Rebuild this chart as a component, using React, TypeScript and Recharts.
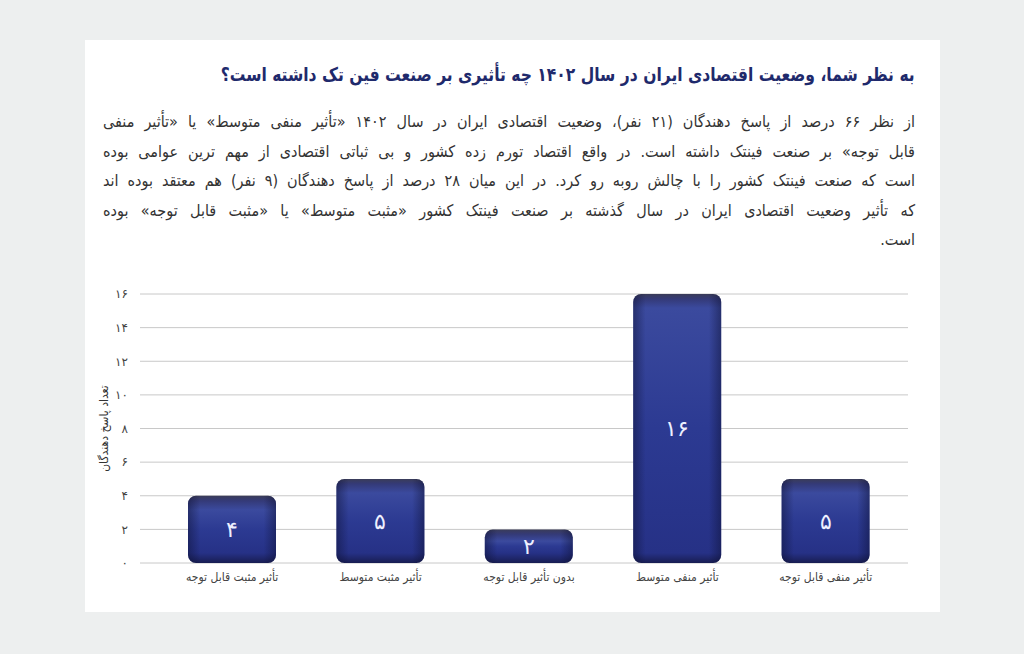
import React from "react";
import { Bar, BarChart, CartesianGrid, LabelList, Rectangle, XAxis, YAxis } from "recharts";

const categories = [
  "تأثیر مثبت قابل توجه",
  "تأثیر مثبت متوسط",
  "بدون تأثیر قابل توجه",
  "تأثیر منفی متوسط",
  "تأثیر منفی قابل توجه"
];
const respondents = [4, 5, 2, 16, 5];
const yTicks = [0, 2, 4, 6, 8, 10, 12, 14, 16];

const title = "به نظر شما، وضعیت اقتصادی ایران در سال ۱۴۰۲ چه تأثیری بر صنعت فین تک داشته است؟";
const paragraph = [
  "از نظر ۶۶ درصد از پاسخ دهندگان (۲۱ نفر)، وضعیت اقتصادی ایران در سال ۱۴۰۲ «تأثیر منفی متوسط» یا «تأثیر منفی",
  "قابل توجه» بر صنعت فینتک داشته است. در واقع اقتصاد تورم زده کشور و بی ثباتی اقتصادی از مهم ترین عوامی بوده",
  "است که صنعت فینتک کشور را با چالش روبه رو کرد. در این میان ۲۸ درصد از پاسخ دهندگان (۹ نفر) هم معتقد بوده اند",
  "که تأثیر وضعیت اقتصادی ایران در سال گذشته بر صنعت فینتک کشور «مثبت متوسط» یا «مثبت قابل توجه» بوده",
  "است."
];
const yLabel = "تعداد پاسخ دهندگان";

const data = categories.map((name, i) => ({ name, value: respondents[i] }));

const fa = (n: number | string) => String(n).replace(/\d/g, (d) => "۰۱۲۳۴۵۶۷۸۹"[Number(d)]);

const font = "'DejaVu Sans', sans-serif";
const condensed = "'DejaVu Sans Condensed', 'DejaVu Sans', sans-serif";

function GlossyBar(props: any) {
  const { x, y, width, height, index } = props;
  if (!height || height <= 0) return null;
  const h = height;
  const id = `barv${index}`;
  return (
    <g>
      <defs>
        <linearGradient id={id} x1="0" y1="0" x2="0" y2="1">
          <stop offset={0} stopColor="#3a3c58" />
          <stop offset={Math.min(0.2, 5 / h)} stopColor="#343a78" />
          <stop offset={Math.min(0.35, 14 / h)} stopColor="#3b4a9e" />
          <stop offset={0.5} stopColor="#2c3a92" />
          <stop offset={Math.max(0.65, 1 - 10 / h)} stopColor="#263186" />
          <stop offset={1} stopColor="#181d52" />
        </linearGradient>
      </defs>
      <Rectangle x={x} y={y} width={width} height={height} radius={8} fill={`url(#${id})`} />
      <Rectangle x={x} y={y} width={width} height={height} radius={8} fill="url(#barSides)" />
    </g>
  );
}

function YLabel(props: any) {
  const vb = props.viewBox;
  const cx = vb.x + 4;
  const cy = vb.y + vb.height / 2;
  return (
    <text
      x={cx}
      y={cy}
      transform={`rotate(-90, ${cx}, ${cy})`}
      textAnchor="middle"
      dominantBaseline="central"
      fontSize={12}
      fill="#333"
      style={{ fontFamily: condensed }}
    >
      {yLabel}
    </text>
  );
}

export default function App() {
  return (
    <div style={{ position: "absolute", left: 0, top: 0, width: 1024, height: 654, background: "#edefef", overflow: "hidden" }}>
      <div style={{ position: "absolute", left: 85, top: 40, width: 855, height: 572, background: "#ffffff" }}>
        <div
          dir="rtl"
          style={{
            position: "absolute",
            right: 25,
            top: 23,
            fontFamily: condensed,
            fontWeight: "bold",
            fontSize: 19,
            color: "#1f2a6c",
            whiteSpace: "nowrap",
            transform: "scaleX(0.91)",
            transformOrigin: "right center"
          }}
        >
          {title}
        </div>
        <div style={{ position: "absolute", left: 18, top: 67, width: 812, fontFamily: condensed, fontSize: 16, color: "#333" }}>
          {paragraph.map((line, i) => (
            <div
              key={i}
              dir="rtl"
              style={{
                height: 29.5,
                lineHeight: "29.5px",
                whiteSpace: "nowrap",
                textAlign: i === paragraph.length - 1 ? "right" : "justify",
                textAlignLast: i === paragraph.length - 1 ? "right" : "justify"
              }}
            >
              {line}
            </div>
          ))}
        </div>
        <div style={{ position: "absolute", left: 0, top: 240 }}>
          <BarChart width={855} height={332} data={data} margin={{ top: 14, right: 32, bottom: 19, left: 15 }}>
            <defs>
              <linearGradient id="barSides" x1="0" y1="0" x2="1" y2="0">
                <stop offset={0} stopColor="#0c0f30" stopOpacity={0.45} />
                <stop offset={0.14} stopColor="#0c0f30" stopOpacity={0} />
                <stop offset={0.86} stopColor="#0c0f30" stopOpacity={0} />
                <stop offset={1} stopColor="#0c0f30" stopOpacity={0.45} />
              </linearGradient>
            </defs>
            <CartesianGrid vertical={false} stroke="#c8c8c8" strokeWidth={1} />
            <XAxis
              dataKey="name"
              axisLine={false}
              tickLine={false}
              tickSize={0}
              tickMargin={9}
              height={30}
              padding={{ left: 18, right: 8 }}
              interval={0}
              tick={{ fontSize: 12, fill: "#444", fontFamily: condensed }}
            />
            <YAxis
              domain={[0, 16]}
              ticks={yTicks}
              axisLine={false}
              tickLine={false}
              tickSize={0}
              tickMargin={12}
              width={40}
              tickFormatter={(v: number) => fa(v)}
              tick={{ fontSize: 12, fill: "#444", fontFamily: font }}
              label={{ content: YLabel }}
            />
            <Bar dataKey="value" barSize={88} shape={GlossyBar} isAnimationActive={false}>
              <LabelList
                dataKey="value"
                position="center"
                formatter={(v: any) => fa(v)}
                style={{ fill: "#eef0ff", fontSize: 22, fontWeight: 200, fontFamily: font }}
              />
            </Bar>
          </BarChart>
        </div>
      </div>
    </div>
  );
}
